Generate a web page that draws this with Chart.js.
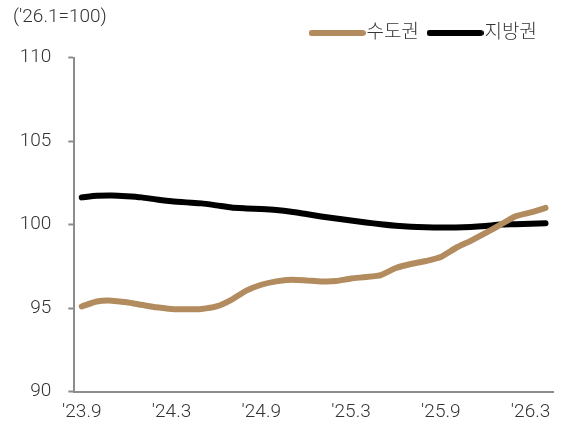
<!DOCTYPE html>
<html>
<head>
<meta charset="utf-8">
<script src="https://cdn.jsdelivr.net/npm/chart.js@4.4.1/dist/chart.umd.min.js"></script>
<style>
  body { margin: 0; background: #fff; }
  #wrap { width: 566px; height: 432px; }
</style>
</head>
<body>
<div id="wrap"><canvas id="chartIndex" width="566" height="432"></canvas></div>
<script>
// 월별 (23.9 ~ 26.4)
const months = ["'23.9", "'23.10", "'23.11", "'23.12",
  "'24.1", "'24.2", "'24.3", "'24.4", "'24.5", "'24.6", "'24.7", "'24.8", "'24.9", "'24.10", "'24.11", "'24.12",
  "'25.1", "'25.2", "'25.3", "'25.4", "'25.5", "'25.6", "'25.7", "'25.8", "'25.9", "'25.10", "'25.11", "'25.12",
  "'26.1", "'26.2", "'26.3", "'26.4"];

const sudogwon = [95.1, 95.4, 95.45, 95.35, 95.2, 95.05, 94.95, 94.93, 94.95, 95.1, 95.5, 96.05,
  96.4, 96.6, 96.7, 96.66, 96.6, 96.62, 96.78, 96.86, 96.98, 97.4, 97.64, 97.82,
  98.06, 98.6, 99.03, 99.5, 100.0, 100.5, 100.73, 101.0];

const jibanggwon = [101.63, 101.72, 101.74, 101.7, 101.63, 101.5, 101.4, 101.33, 101.27, 101.15, 101.02, 100.97,
  100.93, 100.87, 100.77, 100.63, 100.49, 100.37, 100.25, 100.13, 100.02, 99.93, 99.87, 99.84,
  99.83, 99.83, 99.86, 99.92, 100.0, 100.02, 100.05, 100.08];

const seriesNames = ['수도권', '지방권'];
const seriesColors = ['#B28B5E', '#000000'];
const unitLabel = "('26.1=100)";
const yMin = 90, yMax = 110, yStep = 5;

const axisColor = '#8c8c8c';
const textColor = '#333';
const fontFamily = "Roboto, 'Noto Sans CJK KR', sans-serif";

// 범례용 굵은 선 (끝 둥글게)
function makeSample(color) {
  const c = document.createElement('canvas');
  c.width = 57;
  c.height = 8;
  const g = c.getContext('2d');
  g.strokeStyle = color;
  g.lineWidth = 6;
  g.lineCap = 'round';
  g.beginPath();
  g.moveTo(3, 4);
  g.lineTo(54, 4);
  g.stroke();
  return c;
}
const samples = seriesColors.map(makeSample);

// 범례 아래 여백 조금 더
const legendGap = {
  id: 'legendGap',
  beforeInit(chart) {
    const fit = chart.legend.fit;
    chart.legend.fit = function () {
      fit.call(this);
      this.height += 5;
    };
  }
};

Chart.defaults.font.family = fontFamily;
Chart.defaults.font.size = 19;
Chart.defaults.font.weight = 300;
Chart.defaults.color = textColor;

const ctx = document.getElementById('chartIndex').getContext('2d');
const chartIndex = new Chart(ctx, {
  type: 'line',
  data: {
    labels: months,
    datasets: [{
      label: seriesNames[0],
      data: sudogwon,
      borderColor: seriesColors[0],
      backgroundColor: seriesColors[0],
      borderWidth: 6,
      borderCapStyle: 'round',
      borderJoinStyle: 'round',
      pointRadius: 0,
      tension: 0.2
    }, {
      label: seriesNames[1],
      data: jibanggwon,
      borderColor: seriesColors[1],
      backgroundColor: seriesColors[1],
      borderWidth: 6,
      borderCapStyle: 'round',
      borderJoinStyle: 'round',
      pointRadius: 0,
      tension: 0.2
    }]
  },
  options: {
    responsive: false,
    animation: false,
    layout: { padding: { left: 13, right: 13, top: 0, bottom: 0 } },
    plugins: {
      title: {
        display: true,
        text: unitLabel,
        align: 'start',
        color: textColor,
        font: { size: 19, weight: 300 },
        padding: { top: 5.6, bottom: -20.9 }
      },
      legend: {
        position: 'top',
        align: 'end',
        labels: {
          usePointStyle: true,
          pointStyleWidth: 40,
          padding: 16,
          color: textColor,
          font: { size: 19, weight: 300 },
          generateLabels(chart) {
            return Chart.defaults.plugins.legend.labels.generateLabels(chart)
              .map((item, i) => ({ ...item, pointStyle: samples[i] }));
          }
        }
      },
      tooltip: { enabled: false }
    },
    scales: {
      x: {
        type: 'category',
        offset: true,
        afterFit(scale) { scale.height = 40.3; },
        grid: {
          offset: true,
          drawOnChartArea: false,
          tickLength: 6,
          tickWidth: 2,
          tickColor: (c) => (c.index % 6 === 0 ? axisColor : 'rgba(0,0,0,0)')
        },
        border: { color: axisColor, width: 2 },
        ticks: {
          autoSkip: false,
          maxRotation: 0,
          padding: 3,
          color: textColor,
          callback: (value, index) => (index % 6 === 0 ? months[index] : null)
        }
      },
      y: {
        min: yMin,
        max: yMax,
        afterFit(scale) { scale.width = 61.3; },
        grid: {
          drawOnChartArea: false,
          tickLength: 6,
          tickWidth: 2,
          tickColor: axisColor
        },
        border: { color: axisColor, width: 2 },
        ticks: {
          stepSize: yStep,
          padding: 17,
          color: textColor
        }
      }
    }
  },
  plugins: [legendGap]
});
</script>
</body>
</html>
